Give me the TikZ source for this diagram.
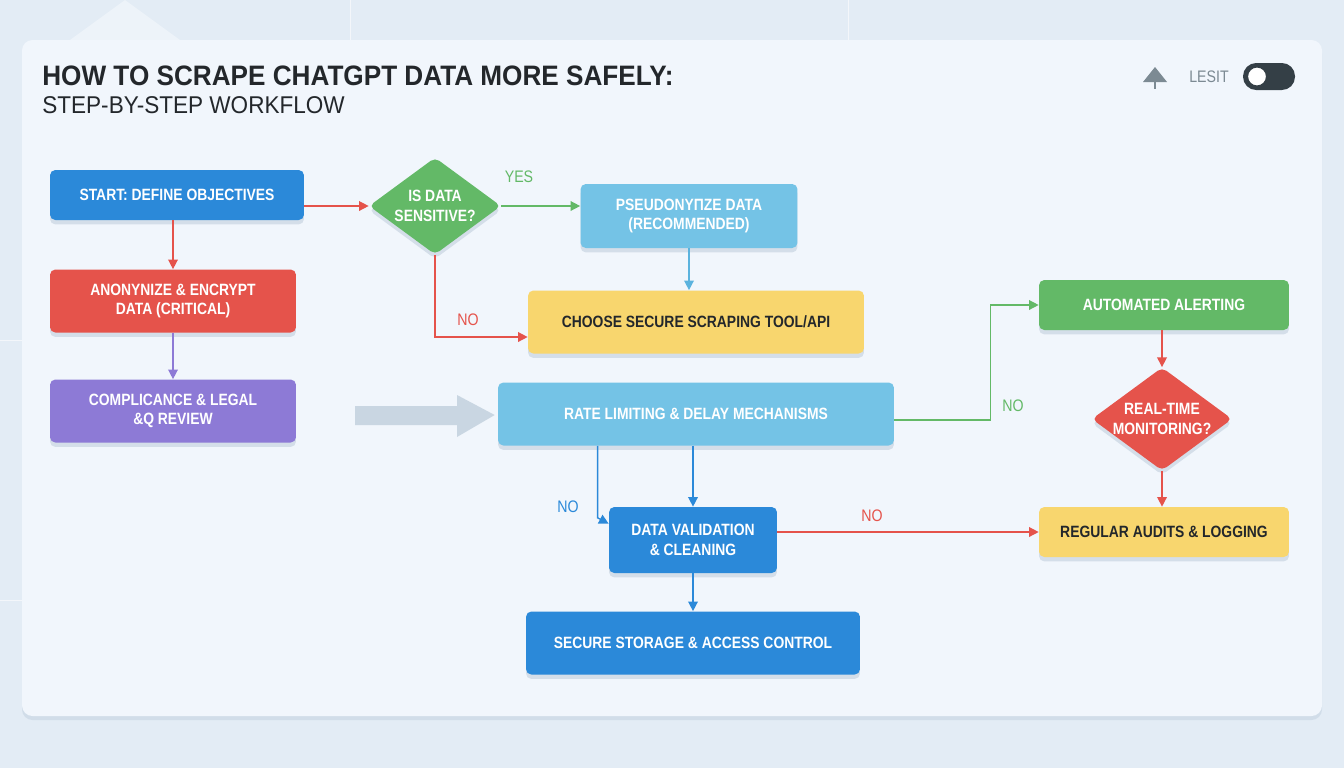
\documentclass[tikz,border=0pt]{standalone}
\usepackage{fontspec}
\setmainfont{Liberation Sans}[FakeStretch=0.85]
\newfontfamily\headfont{Liberation Sans}[FakeStretch=0.93]
\usepackage{tikz}
\usetikzlibrary{arrows.meta,positioning,calc,shapes.geometric,shadows}
\definecolor{bgcolor}{HTML}{E3ECF5}
\definecolor{cardcolor}{HTML}{F1F6FC}
\definecolor{bluebox}{HTML}{2B89D9}
\definecolor{redbox}{HTML}{E5534B}
\definecolor{purplebox}{HTML}{8D7AD6}
\definecolor{greenbox}{HTML}{63B967}
\definecolor{skybox}{HTML}{74C3E6}
\definecolor{skyline}{HTML}{5BB3DE}
\definecolor{yellowbox}{HTML}{F8D66E}
\definecolor{inkdark}{HTML}{23272B}
\definecolor{iconcolor}{HTML}{7C8A93}
\definecolor{arrowgray}{HTML}{C9D6E2}
\definecolor{toggledark}{HTML}{343F46}
\definecolor{shadowtone}{HTML}{9FB2C6}

\begin{document}
\begin{tikzpicture}[x=0.02cm, y=-0.02cm,
    every node/.style={font=\bfseries\fontsize{9.3}{11}\selectfont},
    softshadow/.style={drop shadow={shadow xshift=0pt, shadow yshift=-2.5pt, fill=shadowtone, opacity=0.35}},
    box/.style={rectangle, rounded corners=3pt, align=center, inner sep=0pt, softshadow},
    decision/.style={diamond, rounded corners=3pt, align=center, inner sep=0pt, aspect=1.36, softshadow},
    link/.style={line width=0.8pt, -{Triangle[length=5.5pt,width=5.5pt]}},
    tag/.style={font=\fontsize{9.5}{11}\selectfont}]
        \useasboundingbox (0,0) rectangle (1344,768);
        \fill[bgcolor] (0,0) rectangle (1344,768);

        % faint backdrop lines
        \draw[white!55!bgcolor,thin] (350,0) -- (350,40) (848,0) -- (848,40);
        \draw[white!55!bgcolor,thin] (0,340) -- (22,340) (0,600) -- (22,600);
        \fill[white!35!bgcolor] (70,40) -- (125,0) -- (180,40) -- cycle;

        % card
        \fill[shadowtone, opacity=0.25, rounded corners=6pt] (22,43) rectangle (1322,720);
        \fill[cardcolor, rounded corners=6pt] (22,40) rectangle (1322,716);

        % heading
        \node[anchor=base west, inner sep=0pt, text=inkdark, font=\headfont\bfseries\fontsize{16}{18}\selectfont]
          (title) at (42,85) {HOW TO SCRAPE CHATGPT DATA MORE SAFELY:};
        \node[anchor=base west, inner sep=0pt, text=inkdark, font=\headfont\fontsize{13.8}{16}\selectfont]
          (subtitle) at (42,113) {STEP-BY-STEP WORKFLOW};

        % top right controls
        \fill[iconcolor] (1143,82) -- (1155,67) -- (1167,82) -- cycle;
        \draw[iconcolor, line width=1.5pt] (1155,80) -- (1155,89);
        \node[text=iconcolor, font=\fontsize{9.5}{11}\selectfont] (lesit) at (1209,77) {LESIT};
        \fill[toggledark, rounded corners=7.5pt] (1243,63) rectangle (1295,90);
        \draw[fill=white, draw=toggledark, line width=1.2pt] (1257,76.5) circle[radius=0.2cm];

        % left column
        \node[box, fill=bluebox, text=white, minimum width=5.08cm, minimum height=1.0cm]
          (start) at (177,195) {START: DEFINE OBJECTIVES};
        \node[box, fill=redbox, text=white, minimum width=4.92cm, minimum height=1.26cm]
          (anon) at (173,301) {ANONYNIZE \& ENCRYPT\\DATA (CRITICAL)};
        \node[box, fill=purplebox, text=white, minimum width=4.92cm, minimum height=1.26cm]
          (comp) at (173,411) {COMPLICANCE \& LEGAL\\\&Q REVIEW};

        % middle column
        \node[decision, fill=greenbox, text=white, minimum width=2.64cm, minimum height=1.94cm]
          (sens) at (435,206) {IS DATA\\SENSITIVE?};
        \node[box, fill=skybox, text=white, minimum width=4.34cm, minimum height=1.28cm]
          (pseudo) at (689,216) {PSEUDONYΠZE DATA\\(RECOMMENDED)};
        \node[box, fill=yellowbox, text=inkdark, minimum width=6.72cm, minimum height=1.26cm]
          (choose) at (696,322) {CHOOSE SECURE SCRAPING TOOL/API};
        \node[box, fill=skybox, text=white, minimum width=7.92cm, minimum height=1.26cm]
          (rate) at (696,414) {RATE LIMITING \& DELAY MECHANISMS};
        \node[box, fill=bluebox, text=white, minimum width=3.36cm, minimum height=1.32cm]
          (valid) at (693,540) {DATA VALIDATION\\\& CLEANING};
        \node[box, fill=bluebox, text=white, minimum width=6.68cm, minimum height=1.26cm]
          (store) at (693,643) {SECURE STORAGE \& ACCESS CONTROL};

        % right column
        \node[box, fill=greenbox, text=white, minimum width=5.0cm, minimum height=1.0cm]
          (alert) at (1164,305) {AUTOMATED ALERTING};
        \node[decision, fill=redbox, text=white, minimum width=2.74cm, minimum height=1.98cm]
          (monitor) at (1162,419) {REAL-TIME\\MONITORING?};
        \node[box, fill=yellowbox, text=inkdark, minimum width=5.0cm, minimum height=1.0cm]
          (audit) at (1164,532) {REGULAR AUDITS \& LOGGING};

        % big hint arrow into rate limiting
        \fill[arrowgray] (355,406) -- (457,406) -- (457,395) -- ($(rate.west)+(-3,1)$)
          -- (457,437) -- (457,425) -- (355,425) -- cycle;

        % connectors
        \draw[link, redbox] (start.east |- sens.west) -- (sens.west);
        \draw[link, redbox] (start.south -| anon.north) -- (anon.north);
        \draw[link, purplebox] (anon.south) -- (comp.north);
        \draw[link, greenbox] (sens.east) -- (pseudo.west |- sens.east);
        \draw[link, redbox] (sens.south) |- ($(choose.west)+(0,15)$);
        \draw[link, skyline] (pseudo.south) -- (pseudo.south |- choose.north);
        \draw[link, greenbox] ($(rate.east)+(0,6)$) -- ++(96,0) |- (alert.west);
        \draw[link, bluebox] (valid.north |- rate.south) -- (valid.north);
        \draw[link, bluebox] ($(rate.south west)+(100,0)$) -- ++(0,72) -- ($(valid.north west)+(0,17)$);
        \draw[link, redbox] ($(valid.east)+(0,-8)$) -- ($(audit.west)+(0,0)$);
        \draw[link, bluebox] (valid.south) -- (store.north);
        \draw[link, redbox] (monitor.north |- alert.south) -- (monitor.north);
        \draw[link, redbox] (monitor.south) -- (monitor.south |- audit.north);

        % branch labels
        \node[tag, text=greenbox] (lblyes) at (519,177) {YES};
        \node[tag, text=redbox] (lblno1) at (468,320) {NO};
        \node[tag, text=greenbox] (lblno2) at (1013,406) {NO};
        \node[tag, text=bluebox] (lblno3) at (568,507) {NO};
        \node[tag, text=redbox] (lblno4) at (872,516) {NO};
      \end{tikzpicture}
\end{document}
